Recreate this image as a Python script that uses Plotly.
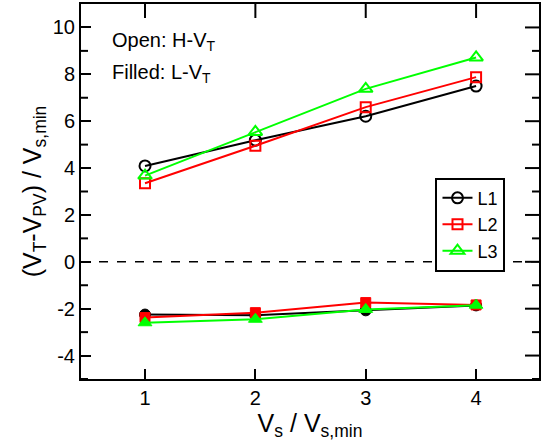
import plotly.graph_objects as go

# Normalised supply voltage
vs_ratio = [1, 2, 3, 4]

# High threshold (open markers)
h_vt_L1 = [4.09, 5.19, 6.21, 7.50]
h_vt_L2 = [3.35, 4.95, 6.60, 7.88]
h_vt_L3 = [3.68, 5.54, 7.38, 8.72]

# Low threshold (filled markers)
l_vt_L1 = [-2.25, -2.28, -2.07, -1.86]
l_vt_L2 = [-2.38, -2.17, -1.74, -1.84]
l_vt_L3 = [-2.60, -2.45, -2.03, -1.85]

y_ticks = [-4, -2, 0, 2, 4, 6, 8, 10]
y_ticktext = ["-4", "-2", "0", "2", "4", "6", "8", "10"]
y_minor_ticks = [-5, -3, -1, 1, 3, 5, 7, 9]

series_names = ["L1", "L2", "L3"]
colors = ["#000000", "#ff0000", "#00ff00"]
symbols = ["circle", "square", "triangle-up"]
sizes = [11, 10, 12]

FONT = "Liberation Sans, Arial, sans-serif"
X_RANGE = [0.42, 4.57]
Y_RANGE = [-5, 11]
MAJOR_LEN, MINOR_LEN = 10, 5

fig = go.Figure()

# Zero reference line
fig.add_shape(type="line", xref="paper", yref="y", x0=0, x1=1, y0=0, y1=0,
              line=dict(color="black", width=1.5, dash="dash"), layer="below")

for name, col, sym, sz, hv in zip(series_names, colors, symbols, sizes,
                                  [h_vt_L1, h_vt_L2, h_vt_L3]):
    fig.add_trace(go.Scatter(
        x=vs_ratio, y=hv, mode="lines+markers", name=name,
        line=dict(color=col, width=2),
        marker=dict(symbol=sym + "-open", size=sz, color=col,
                    line=dict(color=col, width=2)),
    ))

for name, col, sym, sz, lv in zip(series_names, colors, symbols, sizes,
                                  [l_vt_L1, l_vt_L2, l_vt_L3]):
    fig.add_trace(go.Scatter(
        x=vs_ratio, y=lv, mode="lines+markers", name=name + " (L)",
        showlegend=False,
        line=dict(color=col, width=2),
        marker=dict(symbol=sym, size=sz, color=col,
                    line=dict(color=col, width=1)),
    ))

# Inward tick marks on the top/right frame and the minor ticks, drawn as
# line markers centred on the frame (the outer half is clipped away)
def tick_marks(xs, ys, symbol, length):
    fig.add_trace(go.Scatter(
        x=xs, y=ys, mode="markers", showlegend=False, hoverinfo="skip",
        cliponaxis=True,
        marker=dict(symbol=symbol, size=2 * length, color="black",
                    line=dict(color="black", width=2)),
    ))

tick_marks(vs_ratio, [Y_RANGE[1]] * len(vs_ratio), "line-ns", MAJOR_LEN)
tick_marks([X_RANGE[1]] * len(y_ticks), y_ticks, "line-ew", MAJOR_LEN)
tick_marks([X_RANGE[1]] * len(y_minor_ticks), y_minor_ticks, "line-ew", MINOR_LEN)
tick_marks([X_RANGE[0]] * len(y_minor_ticks), y_minor_ticks, "line-ew", MINOR_LEN)

tick_base = dict(ticks="inside", tickcolor="black", tickwidth=2,
                 showgrid=False, zeroline=False)

fig.update_layout(
    xaxis=dict(
        **tick_base, ticklen=MAJOR_LEN, range=X_RANGE, tickmode="array",
        tickvals=vs_ratio, showline=True, linecolor="black", linewidth=2,
        mirror=True, tickfont=dict(family=FONT, size=20, color="black"),
        title=dict(text="V<sub>s</sub> / V<sub>s,min</sub>",
                   font=dict(family=FONT, size=25, color="black"), standoff=2),
    ),
    yaxis=dict(
        **tick_base, ticklen=MAJOR_LEN, range=Y_RANGE, tickmode="array",
        tickvals=y_ticks, ticktext=y_ticktext,
        showline=True, linecolor="black", linewidth=2, mirror=True,
        tickfont=dict(family=FONT, size=20, color="black"),
        title=dict(text="(V<sub>T</sub>-V<sub>PV</sub>) / V<sub>s,min</sub>",
                   font=dict(family=FONT, size=25, color="black"), standoff=4),
    ),
)

fig.add_annotation(xref="paper", yref="paper", x=0.063, y=0.90,
                   xanchor="left", yanchor="middle", showarrow=False,
                   text="Open: H-V<sub>T</sub>",
                   font=dict(family=FONT, size=20, color="black"))
fig.add_annotation(xref="paper", yref="paper", x=0.063, y=0.816,
                   xanchor="left", yanchor="middle", showarrow=False,
                   text="Filled: L-V<sub>T</sub>",
                   font=dict(family=FONT, size=20, color="black"))

fig.update_layout(
    width=543, height=445,
    margin=dict(l=81, r=2, t=3, b=66),
    plot_bgcolor="white", paper_bgcolor="white",
    font=dict(family=FONT, color="black"),
    showlegend=True,
    legend=dict(x=0.774, y=0.537, xanchor="left", yanchor="top",
                bgcolor="white", bordercolor="black", borderwidth=2,
                font=dict(family=FONT, size=18, color="black"),
                itemwidth=30, tracegroupgap=0),
)

fig.write_html("out.html")
